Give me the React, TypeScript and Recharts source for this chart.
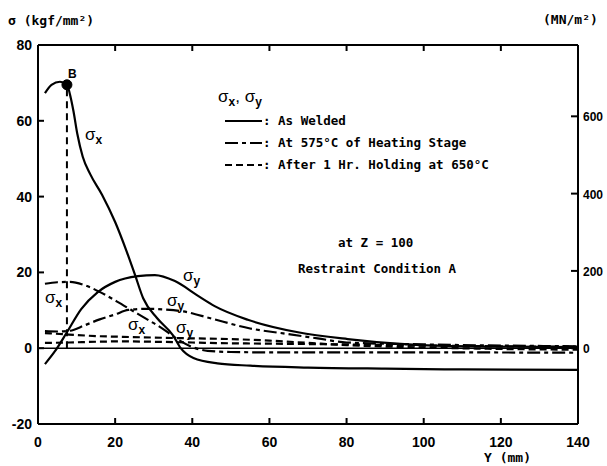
import { LineChart, Line, XAxis, YAxis, ReferenceLine, ReferenceDot } from 'recharts';

// distance Y (mm) and stress (kgf/mm2)
const weldedSxPos = [1.8, 3.5, 5.7, 7.5, 8.5, 9.2, 10.2, 11.6, 13.5, 16.6, 20, 23, 25.2, 27.3, 30.9, 35, 37, 40.3, 46.5, 55, 70, 90, 110, 140];
const weldedSx = [67.3, 69.5, 70.3, 69.5, 66, 62.5, 56.5, 50.5, 46, 40.5, 33.3, 25.5, 19.2, 13.1, 7.9, 3.4, 0, -2.6, -4, -4.6, -5.1, -5.4, -5.6, -5.7];

const weldedSyPos = [1.8, 4.4, 7.5, 11.2, 15.5, 20, 25.9, 30.3, 35.5, 41.5, 45.8, 54.4, 67.4, 80.3, 93, 105, 120, 140];
const weldedSy = [-4.2, -0.8, 4.2, 10.3, 14.8, 17.5, 19, 19.3, 17.7, 13.8, 11.1, 7.5, 4.2, 2.4, 1.2, 0.6, 0.4, 0.3];

const heatSxPos = [1.8, 5, 8.3, 12.7, 16.1, 20.5, 24, 28.3, 31, 33.5, 36.1, 40, 44, 50, 60, 80, 100, 140];
const heatSx = [17, 17.4, 17.5, 16.4, 14.8, 12.3, 10.2, 7.6, 6, 4.3, 2.4, 0.3, -0.7, -1, -1.1, -1.1, -1.1, -1.2];

const heatSyPos = [1.8, 5, 8.3, 12, 16, 20, 23.4, 28.3, 33, 37.7, 44.7, 55, 63.6, 72.5, 80, 100, 120, 140];
const heatSy = [4.5, 4.4, 4.6, 6, 7.6, 8.9, 10.1, 10.4, 10.2, 9.7, 7.9, 5.2, 3.9, 2.6, 1.5, 1, 0.7, 0.5];

const holdSxPos = [1.8, 8, 15, 22, 30, 40, 50, 60, 70, 80, 100, 120, 140];
const holdSx = [4, 3.6, 3.2, 3, 2.8, 2.6, 2.4, 2, 1.4, 0.8, 0.2, -0.2, -0.4];

const holdSyPos = [1.8, 8, 15, 22, 30, 40, 50, 60, 70, 80, 100, 120, 140];
const holdSy = [1.4, 1.5, 1.7, 1.8, 1.7, 1.5, 1.3, 1.2, 1.1, 1, 0.7, 0.5, 0.4];

// point B on the as-welded sigma-x curve
const pointB = { x: 7.5, y: 69.5 };

const xTicks = [0, 20, 40, 60, 80, 100, 120, 140];
const leftTicks = [-20, 0, 20, 40, 60, 80];
const rightTicks = [0, 200, 400, 600];
const KGF_TO_MN = 9.807;

const toPoints = (xs: number[], ys: number[]) => xs.map((x, i) => ({ x, y: ys[i] }));

const PLOT = { left: 38, right: 578, top: 45, bottom: 424 };
const TICK_FONT = '"Liberation Sans", Arial, sans-serif';
const MONO = '"DejaVu Sans Mono", monospace';
const DASH_DOT = '13 4 4 4';
const DASHED = '7 4';

function XTick({ x, payload }: any) {
  return (
    <g>
      <line x1={x} x2={x} y1={PLOT.bottom} y2={PLOT.bottom - 6} stroke="#000" strokeWidth={2} />
      <line x1={x} x2={x} y1={PLOT.top} y2={PLOT.top + 6} stroke="#000" strokeWidth={2} />
      <text x={x} y={447} textAnchor="middle" fontFamily={TICK_FONT} fontWeight="bold" fontSize={14} fill="#000">
        {payload.value}
      </text>
    </g>
  );
}

function LeftTick({ y, payload }: any) {
  return (
    <g>
      <line x1={PLOT.left} x2={PLOT.left + 6} y1={y} y2={y} stroke="#000" strokeWidth={2} />
      <text x={32} y={y + 5} textAnchor="end" fontFamily={TICK_FONT} fontWeight="bold" fontSize={14} fill="#000">
        {payload.value}
      </text>
    </g>
  );
}

function RightTick({ y, payload }: any) {
  return (
    <g>
      <line x1={PLOT.right} x2={PLOT.right - 7} y1={y} y2={y} stroke="#000" strokeWidth={2} />
      <text x={PLOT.right + 5} y={y + 5} textAnchor="start" fontFamily={TICK_FONT} fontWeight="bold" fontSize={12} fill="#000">
        {payload.value}
      </text>
    </g>
  );
}

function Sigma({ x, y, sub }: { x: number; y: number; sub: string }) {
  return (
    <text x={x} y={y} fontFamily={TICK_FONT} fontSize={17} fill="#000">
      σ<tspan dy={4} fontSize={12} fontWeight="bold">{sub}</tspan>
    </text>
  );
}

export default function App() {
  const line = (pts: { x: number; y: number }[], dash?: string, key?: string) => (
    <Line
      key={key}
      data={pts}
      dataKey="y"
      yAxisId="left"
      type="monotone"
      dot={false}
      stroke="#000"
      strokeWidth={2.2}
      strokeDasharray={dash}
      isAnimationActive={false}
    />
  );

  return (
    <div style={{ position: 'absolute', left: 0, top: 0, width: 607, height: 466, background: '#fff' }}>
      <LineChart width={607} height={466} margin={{ top: PLOT.top, right: 0, bottom: 0, left: 0 }}>
        <XAxis
          dataKey="x"
          type="number"
          domain={[0, 140]}
          ticks={xTicks}
          height={42}
          allowDuplicatedCategory={false}
          axisLine={{ stroke: '#000', strokeWidth: 2 }}
          tickLine={false}
          tick={<XTick />}
        />
        <YAxis
          yAxisId="left"
          type="number"
          domain={[-20, 80]}
          ticks={leftTicks}
          width={PLOT.left}
          axisLine={{ stroke: '#000', strokeWidth: 2 }}
          tickLine={false}
          tick={<LeftTick />}
        />
        <YAxis
          yAxisId="right"
          type="number"
          orientation="right"
          domain={[-20 * KGF_TO_MN, 80 * KGF_TO_MN]}
          allowDataOverflow
          ticks={rightTicks}
          width={607 - PLOT.right}
          axisLine={{ stroke: '#000', strokeWidth: 2 }}
          tickLine={false}
          tick={<RightTick />}
        />
        <ReferenceLine yAxisId="left" y={80} stroke="#000" strokeWidth={2} />
        <ReferenceLine yAxisId="right" y={0} stroke="#000" strokeWidth={1.5} ifOverflow="extendDomain" />
        <ReferenceLine
          yAxisId="left"
          segment={[{ x: pointB.x, y: 0 }, { x: pointB.x, y: pointB.y }]}
          stroke="#000"
          strokeWidth={2}
          strokeDasharray="7 5"
        />
        {line(toPoints(weldedSxPos, weldedSx), undefined, 'wsx')}
        {line(toPoints(weldedSyPos, weldedSy), undefined, 'wsy')}
        {line(toPoints(heatSxPos, heatSx), DASH_DOT, 'hsx')}
        {line(toPoints(heatSyPos, heatSy), DASH_DOT, 'hsy')}
        {line(toPoints(holdSxPos, holdSx), DASHED, 'osx')}
        {line(toPoints(holdSyPos, holdSy), DASHED, 'osy')}
        <ReferenceDot yAxisId="left" x={pointB.x} y={pointB.y} r={5} fill="#000" stroke="#000" />
      </LineChart>

      <svg width={607} height={466} style={{ position: 'absolute', left: 0, top: 0, pointerEvents: 'none' }}>
        <text x={8} y={25} fontFamily={MONO} fontWeight="bold" fontSize={13} fill="#000">
          σ (kgf/mm²)
        </text>
        <text x={543} y={24} fontFamily={MONO} fontWeight="bold" fontSize={13} fill="#000">
          (MN/m²)
        </text>
        <text x={484} y={462} fontFamily={MONO} fontWeight="bold" fontSize={13} fill="#000">
          Y (mm)
        </text>
        <text x={68} y={78} fontFamily={TICK_FONT} fontWeight="bold" fontSize={12} fill="#000">B</text>

        <Sigma x={85} y={140} sub="x" />
        <Sigma x={45} y={303} sub="x" />
        <Sigma x={128} y={330} sub="x" />
        <Sigma x={183} y={281} sub="y" />
        <Sigma x={167} y={306} sub="y" />
        <Sigma x={176} y={333} sub="y" />

        <text x={218} y={102} fontFamily={TICK_FONT} fontSize={17} fill="#000">
          σ<tspan dy={4} fontSize={12} fontWeight="bold">x</tspan>
          <tspan dy={-4} fontSize={17}>, σ</tspan>
          <tspan dy={4} fontSize={12} fontWeight="bold">y</tspan>
        </text>

        <line x1={225} x2={262} y1={121} y2={121} stroke="#000" strokeWidth={2.2} />
        <line x1={225} x2={262} y1={143} y2={143} stroke="#000" strokeWidth={2.2} strokeDasharray={DASH_DOT} />
        <line x1={225} x2={262} y1={165} y2={165} stroke="#000" strokeWidth={2.2} strokeDasharray={DASHED} />
        <text x={263} y={125} fontFamily={MONO} fontWeight="bold" fontSize={12.5} fill="#000">: As Welded</text>
        <text x={263} y={147} fontFamily={MONO} fontWeight="bold" fontSize={12.5} fill="#000">: At 575°C of Heating Stage</text>
        <text x={263} y={169} fontFamily={MONO} fontWeight="bold" fontSize={12.5} fill="#000">: After 1 Hr. Holding at 650°C</text>

        <text x={338} y={247} fontFamily={MONO} fontWeight="bold" fontSize={12.5} fill="#000">at Z = 100</text>
        <text x={298} y={273} fontFamily={MONO} fontWeight="bold" fontSize={12.5} fill="#000">Restraint Condition A</text>
      </svg>
    </div>
  );
}
